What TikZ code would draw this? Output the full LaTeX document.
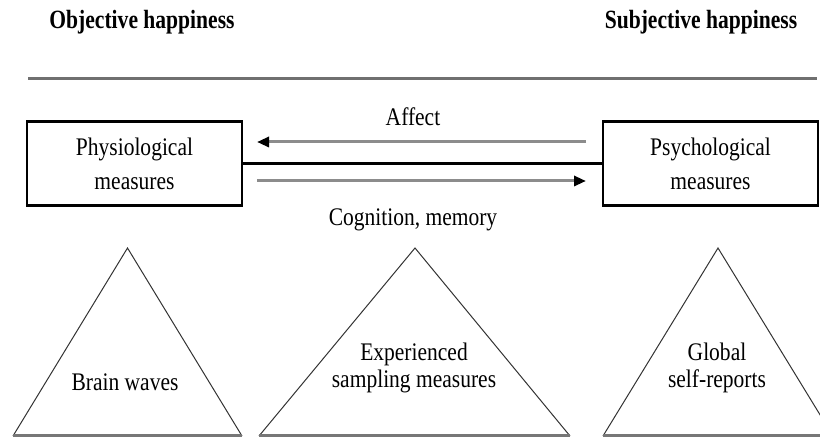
\documentclass[tikz,border=0pt]{standalone}
\usepackage{fontspec}
\setmainfont{Liberation Serif}
\newfontfamily\bodyfont[FakeStretch=0.85]{Liberation Serif}
\newfontfamily\headfont[FakeStretch=0.82]{Liberation Serif Bold}
\usetikzlibrary{arrows.meta}
\definecolor{rulegray}{HTML}{707070}
\definecolor{arrgray}{HTML}{8C8C8C}
\definecolor{basegray}{HTML}{777777}
\definecolor{sidegray}{HTML}{333333}
\tikzset{
  headtext/.style={font=\headfont\fontsize{26.3}{30}\selectfont, inner sep=0pt},
  bodytext/.style={font=\bodyfont\fontsize{25.3}{27}\selectfont, inner sep=0pt, align=center},
  measbox/.style={draw=black, line width=2.6pt, minimum width=215pt, minimum height=84pt, inner sep=0pt, align=center, font=\bodyfont\fontsize{25.3}{34}\selectfont},
  grayarrow/.style={draw=arrgray, line width=3pt, -{Triangle[length=12pt,width=10pt,color=black,fill=black]}},
  tri/.style={draw=sidegray, line width=1pt},
  triBase/.style={draw=basegray, line width=3pt}
}
\begin{document}
\begin{tikzpicture}[x=1pt,y=-1pt]
\useasboundingbox (0,0) rectangle (820,438);
\clip (0,0) rectangle (820,438);
% headings
\node[headtext] (obj) at (142,22) {Objective happiness};
\node[headtext] (subj) at (701,22) {Subjective happiness};
% rule
\coordinate (ruleL) at (28,79);
\coordinate (ruleR) at (817,79);
\draw[rulegray, line width=3pt] (ruleL) -- (ruleR);
% boxes
\node[measbox] (phys) at (134.5,163.5) {Physiological\\measures};
\node[measbox] (psych) at (710.5,163.5) {Psychological\\measures};
\draw[black, line width=2.6pt] (phys.east) -- (psych.west);
% arrows
\coordinate (aR) at (586,142);
\coordinate (aL) at (257,142);
\coordinate (bL) at (257,181);
\coordinate (bR) at (586,181);
\draw[grayarrow] (aR) -- (aL);
\draw[grayarrow] (bL) -- (bR);
\node[bodytext] (affect) at (413,117) {Affect};
\node[bodytext] (cog) at (413,220) {Cognition, memory};
% triangles
\coordinate (t1a) at (127.5,248);
\coordinate (t1l) at (13,436);
\coordinate (t1r) at (242,436);
\coordinate (t2a) at (415,248);
\coordinate (t2l) at (259,436);
\coordinate (t2r) at (570,436);
\coordinate (t3a) at (718,248);
\coordinate (t3l) at (603,436);
\coordinate (t3r) at (833,436);
\draw[tri] (t1l) -- (t1a) -- (t1r);
\draw[tri] (t2l) -- (t2a) -- (t2r);
\draw[tri] (t3l) -- (t3a) -- (t3r);
\draw[triBase] (t1l) -- (t1r);
\draw[triBase] (t2l) -- (t2r);
\draw[triBase] (t3l) -- (t3r);
\node[bodytext] (brain) at (125,382) {Brain waves};
\node[bodytext] (exp) at (414,368) {Experienced\\sampling measures};
\node[bodytext] (glob) at (717,368) {Global\\self-reports};
\end{tikzpicture}
\end{document}
